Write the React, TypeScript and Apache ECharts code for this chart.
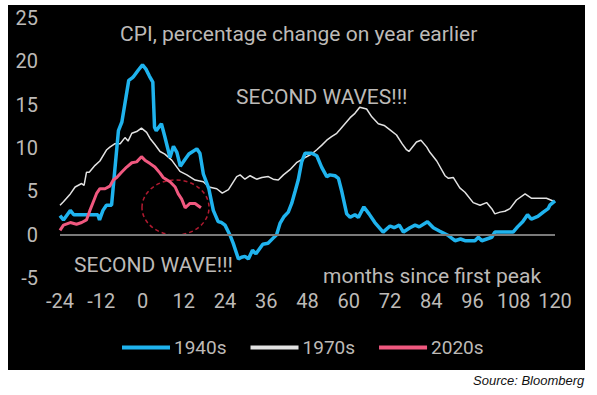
import React, { useEffect, useRef } from "react";
import * as echarts from "echarts";

const seriesNames = ["1940s", "1970s", "2020s"];

const months1940s = [-24, -23, -21, -20, -13, -12.5, -11.5, -10.5, -9, -7, -6, -4, -3, -2.7, -1.2, 0, 1, 2, 3, 3.5, 4, 5.5, 6.5, 8, 9, 10, 11, 12.4, 13.5, 15.8, 16.7, 17.7, 19.3, 20.6, 22, 23, 24, 25.4, 26.4, 27.9, 28.8, 29.8, 30.8, 32, 33, 35, 36.5, 38, 39, 40, 41.2, 42.4, 43.4, 44.4, 45.3, 46.3, 47.3, 49.2, 50.7, 52.1, 53.6, 54.5, 56, 57, 57.9, 59.4, 60.4, 61.8, 62.8, 64.4, 65.9, 67.6, 70, 72, 73.2, 74.7, 75.9, 77.8, 79.3, 80.5, 82.9, 84.6, 86.5, 89, 90.9, 92.5, 93.8, 96.7, 97.7, 98.7, 101.6, 102.5, 107.8, 109.1, 110.6, 112, 113.1, 115, 116.6, 118, 118.5, 120];
const values1940s = [2.2, 1.7, 2.8, 2.3, 2.3, 1.7, 2.8, 3.4, 3.4, 12.0, 13.0, 17.8, 18.1, 18.2, 19.0, 19.6, 19.1, 18.3, 17.6, 12.4, 12.0, 12.8, 11.3, 8.9, 10.2, 9.5, 7.9, 8.7, 9.3, 9.9, 9.4, 7.0, 5.3, 2.8, 1.5, 1.4, 1.1, 0, -1.0, -2.8, -2.6, -2.5, -2.8, -1.8, -2.2, -1.1, -1.0, -0.4, 0.0, 1.3, 2.1, 2.6, 3.6, 5.0, 6.3, 8.4, 9.4, 9.4, 9.1, 7.8, 6.7, 6.9, 6.8, 6.5, 5.1, 2.4, 2.0, 2.3, 2.0, 3.2, 2.4, 1.4, 0.3, 1.0, 0.8, 1.1, 0.3, 0.8, 1.1, 0.9, 1.5, 0.8, 0.4, -0.1, -0.7, -0.5, -0.7, -0.7, -0.3, -0.7, -0.3, 0.3, 0.3, 0.9, 1.5, 2.3, 1.8, 2.1, 2.6, 3.0, 3.4, 3.9];

const months1970s = [-24, -23, -21, -19.6, -17.7, -17, -16.3, -15.5, -13.8, -12.4, -10.4, -9.5, -8, -6.5, -5.1, -4.2, -3.1, -1.7, -0.3, 1.2, 2.2, 3.6, 5.1, 6.5, 8.5, 10.9, 12.9, 15.3, 17.7, 19.3, 21.6, 23.2, 25, 27.4, 28.4, 29.8, 31.3, 33.2, 34.7, 36.6, 38, 39.5, 41, 42.9, 44.8, 47.3, 49.2, 50.7, 52.1, 53.6, 55, 56.5, 57.4, 58.9, 60.4, 61.8, 63.2, 65.2, 66.7, 68.6, 70.3, 72, 73.9, 75.5, 76.8, 77.5, 79.7, 81, 82.7, 83.6, 85.6, 88, 89, 90.4, 92.3, 93.8, 96.2, 98.2, 100.1, 101.6, 102.5, 104, 105.4, 106.9, 108.8, 111.3, 113.2, 115.6, 117.5, 120];
const values1970s = [3.4, 3.8, 4.7, 5.5, 5.9, 5.7, 7.2, 7.2, 8.0, 8.5, 9.8, 10.1, 10.5, 10.5, 11.2, 10.8, 11.7, 11.9, 12.3, 11.8, 11.1, 10.4, 9.6, 9.3, 8.6, 7.3, 6.9, 6.3, 6.1, 5.5, 5.3, 4.8, 5.2, 6.7, 6.9, 6.4, 6.8, 6.4, 6.6, 6.7, 6.4, 6.3, 6.9, 7.5, 8.3, 8.9, 9.3, 9.8, 10.3, 10.9, 11.3, 11.7, 12.1, 12.8, 13.5, 14.0, 14.7, 14.5, 13.6, 12.8, 12.6, 12.1, 11.5, 10.5, 9.8, 9.6, 10.7, 10.9, 10.1, 9.5, 8.5, 6.8, 6.5, 6.6, 5.4, 4.9, 3.7, 3.4, 3.7, 3.0, 2.4, 2.6, 2.7, 3.0, 4.0, 4.7, 4.2, 4.2, 4.2, 3.8];

const months2020s = [-24, -23, -21, -19.2, -17.7, -16.3, -15.3, -14.3, -13.3, -12.4, -10.9, -9.5, -8.5, -7.5, -6.1, -4.6, -3.1, -1.7, -0.3, 0.7, 2.2, 3.6, 5.1, 6, 8, 9.5, 10.4, 11.4, 12.4, 13.8, 15.3, 17];
const values2020s = [0.5, 1.1, 1.4, 1.2, 1.4, 1.7, 2.8, 3.8, 4.8, 5.3, 5.3, 5.6, 6.3, 6.6, 7.2, 7.8, 8.3, 8.4, 9.0, 8.6, 8.2, 7.8, 7.1, 6.6, 6.1, 5.5, 4.7, 4.1, 3.1, 3.6, 3.6, 3.1];

const xTicks = { min: -24, max: 120, interval: 12 };
const yTicks = { min: -5, max: 25, interval: 5 };

const pairs = (xs: number[], ys: number[]) => xs.map((x, i) => [x, ys[i]]);

const FONT = "Roboto, 'Noto Sans', sans-serif";
const TXT = "#bdbab7";

export default function App() {
  const ref = useRef<HTMLDivElement>(null);
  useEffect(() => {
    if (!ref.current) return;
    const chart = echarts.init(ref.current, null, { renderer: "svg" });
    chart.setOption({
      animation: false,
      backgroundColor: "transparent",
      grid: { left: 60, right: 42, top: 18, bottom: 117 },
      xAxis: {
        type: "value",
        min: xTicks.min,
        max: xTicks.max,
        interval: xTicks.interval,
        axisLine: { show: false },
        axisTick: { show: false },
        splitLine: { show: false },
        axisLabel: { color: TXT, fontSize: 20, fontFamily: FONT, margin: 13 },
      },
      yAxis: {
        type: "value",
        min: yTicks.min,
        max: yTicks.max,
        interval: yTicks.interval,
        axisLine: { show: false },
        axisTick: { show: false },
        splitLine: { show: false },
        axisLabel: { color: TXT, fontSize: 20, fontFamily: FONT, margin: 22 },
      },
      legend: {
        left: 117,
        top: 333,
        icon: "rect",
        itemWidth: 48,
        itemHeight: 4,
        itemGap: 24,
        textStyle: { color: TXT, fontSize: 19, fontFamily: FONT, padding: [0, 0, 0, -1] },
        data: seriesNames,
      },
      series: [
        {
          name: seriesNames[1],
          type: "line",
          data: pairs(months1970s, values1970s),
          showSymbol: false,
          symbol: "none",
          z: 2,
          lineStyle: { color: "#e2e2e2", width: 1.5 },
          itemStyle: { color: "#e2e2e2" },
          markLine: {
            silent: true,
            symbol: "none",
            label: { show: false },
            lineStyle: { color: "#7a7a7a", width: 2, type: "solid" },
            data: [{ yAxis: 0 }],
          },
        },
        {
          name: seriesNames[0],
          type: "line",
          data: pairs(months1940s, values1940s),
          showSymbol: false,
          symbol: "none",
          z: 3,
          lineStyle: { color: "#1fb3ee", width: 3.5 },
          itemStyle: { color: "#1fb3ee" },
        },
        {
          name: seriesNames[2],
          type: "line",
          data: pairs(months2020s, values2020s),
          showSymbol: false,
          symbol: "none",
          z: 4,
          lineStyle: { color: "#f0587f", width: 3 },
          itemStyle: { color: "#f0587f" },
        },
      ],
      graphic: [
        {
          type: "ellipse",
          shape: { cx: 175.5, cy: 207.5, rx: 33.5, ry: 27.5 },
          style: { fill: "none", stroke: "#b01a30", lineWidth: 1.5, lineDash: [4, 3] },
          z: 1,
        },
        {
          type: "text",
          left: 120,
          top: 23,
          style: { text: "CPI, percentage change on year earlier", fill: TXT, font: `21px ${FONT}` },
        },
        {
          type: "text",
          left: 236,
          top: 86,
          style: { text: "SECOND WAVES!!!", fill: TXT, font: `21px ${FONT}` },
        },
        {
          type: "text",
          left: 74,
          top: 254,
          style: { text: "SECOND WAVE!!!", fill: TXT, font: `21px ${FONT}` },
        },
        {
          type: "text",
          left: 323,
          top: 265,
          style: { text: "months since first peak", fill: TXT, font: `21px ${FONT}` },
        },
        {
          type: "text",
          left: 473,
          top: 374,
          style: { text: "Source: Bloomberg", fill: "#111", font: `italic 13px 'Liberation Sans', Arial, sans-serif` },
        },
      ],
    });
    return () => chart.dispose();
  }, []);

  return (
    <div style={{ position: "fixed", left: 0, top: 0, width: 597, height: 395, background: "#fff" }}>
      <div style={{ position: "absolute", left: 8, top: 5, width: 577, height: 365, background: "#000" }} />
      <div ref={ref} style={{ position: "absolute", left: 0, top: 0, width: 597, height: 395 }} />
    </div>
  );
}
